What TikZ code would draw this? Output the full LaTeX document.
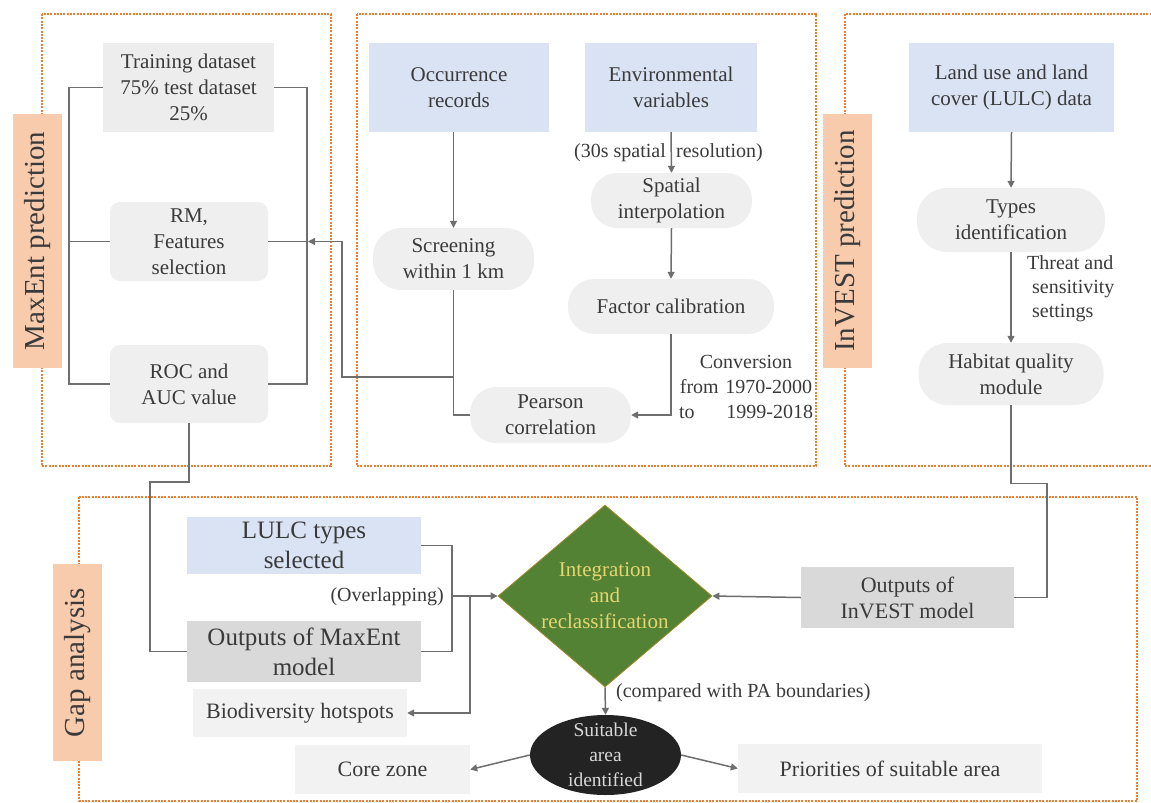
\documentclass[tikz,border=0pt]{standalone}
\usepackage{fontspec}
\setmainfont{Liberation Serif}
\usetikzlibrary{arrows.meta,shapes.geometric}
\definecolor{txt}{HTML}{3A3A3A}
\definecolor{lblue}{HTML}{DAE3F3}
\definecolor{grA}{HTML}{EDEDED}
\definecolor{grB}{HTML}{EFEFEF}
\definecolor{grC}{HTML}{D9D9D9}
\definecolor{grD}{HTML}{F2F2F2}
\definecolor{tagc}{HTML}{F8CBAD}
\definecolor{orng}{HTML}{ED7D31}
\definecolor{lnc}{HTML}{6E6E6E}
\definecolor{dgreen}{HTML}{548235}
\definecolor{dborder}{HTML}{A08A2A}
\definecolor{ytext}{HTML}{E6D670}
\definecolor{ellc}{HTML}{232323}
\definecolor{elltext}{HTML}{D8D8D8}
\newcommand\fmain{\fontsize{21}{26}\selectfont}
\newcommand\fbig{\fontsize{25}{30}\selectfont}
\newcommand\fmid{\fontsize{22}{26}\selectfont}
\newcommand\fsmall{\fontsize{20}{25}\selectfont}
\newcommand\ftitle{\fontsize{29}{34}\selectfont}
\begin{document}
\begin{tikzpicture}[x=1pt,y=-1pt,
  base/.style={inner sep=0pt, align=center, text=txt, font=\fmain},
  bluebox/.style={base, fill=lblue},
  graybox/.style={base, fill=grA},
  rbox/.style={base, fill=grB, rounded corners=10pt},
  pill/.style={base, fill=grB},
  outbox/.style={base, fill=grC},
  lightbox/.style={base, fill=grD, font=\fmid},
  tag/.style={fill=tagc, inner sep=0pt, rotate=90, font=\ftitle, text=txt},
  panel/.style={draw=orng, line width=1.2pt, dash pattern=on 2pt off 1.3pt},
  ln/.style={draw=lnc, line width=1.5pt},
  arr/.style={ln, -{Triangle[length=7pt,width=7pt]}},
  lbl/.style={inner sep=0pt, text=txt, font=\fsmall}
]
\useasboundingbox (0,0) rectangle (1151,803);

% panels
\draw[panel] (42,14) rectangle (331,466);
\draw[panel] (357,14) rectangle (816,466);
\draw[panel] (845,14) rectangle (1170,466);
\draw[panel] (79,497) rectangle (1137,801);

% tags
\node[tag, minimum width=254, minimum height=49] (tagM) at (37.5,241) {MaxEnt prediction};
\node[tag, minimum width=254, minimum height=49] (tagI) at (847.5,241) {InVEST prediction};
\node[tag, minimum width=197, minimum height=49] (tagG) at (77.5,662.5) {Gap analysis};

% panel 1
\node[graybox, minimum width=171, minimum height=89] (train) at (188.5,87.5) {Training dataset\\75\% test dataset\\25\%};
\node[rbox, minimum width=158, minimum height=79] (rm) at (189,241.5) {RM,\\Features\\selection};
\node[rbox, minimum width=158, minimum height=78] (roc) at (189,384) {ROC and\\AUC value};

% panel 2
\node[bluebox, minimum width=180, minimum height=89] (occ) at (459,87.5) {Occurrence\\records};
\node[bluebox, minimum width=172, minimum height=89] (env) at (671,87.5) {Environmental\\variables};
\node[pill, rounded corners=28pt, minimum width=161, minimum height=62] (scr) at (453.5,259) {Screening\\within 1 km};
\node[pill, rounded corners=26pt, minimum width=161, minimum height=55] (spi) at (671.5,200.5) {Spatial\\interpolation};
\node[pill, rounded corners=26pt, minimum width=206, minimum height=55] (fac) at (671,306.5) {Factor calibration};
\node[pill, rounded corners=26pt, minimum width=161, minimum height=56] (pea) at (550.5,415) {Pearson\\correlation};

% panel 3
\node[bluebox, minimum width=205, minimum height=89] (lulc) at (1011.5,87.5) {Land use and land\\cover (LULC) data};
\node[pill, rounded corners=30pt, minimum width=188, minimum height=64] (typ) at (1011,220) {Types\\identification};
\node[pill, rounded corners=29pt, minimum width=185, minimum height=62] (hab) at (1011,374) {Habitat quality\\module};

% panel 4
\node[bluebox, font=\fbig, minimum width=234, minimum height=57] (lsel) at (304,545.5) {LULC types\\selected};
\node[outbox, font=\fbig, minimum width=234, minimum height=61] (mout) at (304,651.5) {Outputs of MaxEnt\\model};
\node[lightbox, minimum width=214, minimum height=48] (bio) at (300,713) {Biodiversity hotspots};
\node[lightbox, minimum width=175, minimum height=49] (core) at (382.5,769.5) {Core zone};
\node[lightbox, minimum width=304, minimum height=49] (pri) at (890,768.5) {Priorities of suitable area};
\node[outbox, font=\fmid, minimum width=213, minimum height=61] (iout) at (907.5,597.5) {Outputs of\\InVEST model};
\node[diamond, fill=dgreen, draw=dborder, line width=0.8pt, inner sep=0pt, minimum width=214, minimum height=182] (dia) at (605,596) {};
\node[inner sep=0pt, align=center, text=ytext, font=\fmain] (diat) at (dia.center) {Integration\\and\\reclassification};
\node[ellipse, fill=ellc, inner sep=0pt, minimum width=151, minimum height=80] (ell) at (605.5,755) {};
\node[inner sep=0pt, align=center, text=elltext, font=\fontsize{19.5}{25}\selectfont] (ellt) at (ell.center) {Suitable\\area\\identified};

% labels
\node[lbl, anchor=east] (lab30a) at (666,153) {(30s spatial};
\node[lbl, anchor=west] (lab30b) at (676,153) {resolution)};
\node[lbl, align=center, text width=134] (conv) at (746,387) {Conversion\\from 1970-2000\\\makebox[134pt]{to\hfill 1999-2018}};
\node[lbl, align=left, anchor=west, font=\fontsize{20}{24}\selectfont] (thr) at (1027,289) {Threat and\\\ sensitivity\\\ settings};
\node[lbl, anchor=east] (ovl) at (444,597) {(Overlapping)};
\node[lbl, anchor=west] (cmp) at (616,693) {(compared with PA boundaries)};

% coordinates
\coordinate (pL) at (69,0);
\coordinate (pR) at (307,0);
\coordinate (j1) at (453.5,377);
\coordinate (b1) at (342,377);
\coordinate (b2) at (342,241.5);
\coordinate (b3) at (308,241.5);
\coordinate (r1) at (189,482);
\coordinate (r2) at (150,482);
\coordinate (h1) at (1011,483.5);
\coordinate (h2) at (1047,483.5);
\coordinate (k1) at (452,545.5);
\coordinate (k2) at (452,596);
\coordinate (k3) at (470,596);

% panel 1 connectors
\draw[ln] (train.west) -- (train.west -| pL) |- (roc.west);
\draw[ln] (rm.west) -- (rm.west -| pL);
\draw[ln] (train.east) -- (train.east -| pR) |- (roc.east);
\draw[ln] (rm.east) -- (rm.east -| pR);
\draw[arr] (j1) -- (b1) -- (b2) -- (b3);

% panel 2 connectors
\draw[arr] (scr.north |- occ.south) -- (scr.north);
\draw[ln] (scr.south) |- (pea.west);
\draw[arr] (env.south) -- (spi.north);
\draw[arr] (spi.south) -- (fac.north);
\draw[arr] (fac.south) |- (pea.east);

% panel 3 connectors
\draw[arr] (lulc.south) -- (typ.north);
\draw[arr] (typ.south) -- (hab.north);
\draw[ln] (hab.south) -- (h1) -- (h2) |- (iout.east);

% gap analysis connectors
\draw[ln] (roc.south) -- (r1) -- (r2) |- (mout.west);
\draw[ln] (lsel.east) -- (k1) |- (mout.east);
\draw[arr] (k2) -- (dia.west);
\draw[arr] (k3) |- (bio.east);
\draw[arr] (iout.west) -- (dia.east);
\draw[arr] (dia.south) -- (ell.north);
\draw[arr] (ell.west) -- (core.east);
\draw[arr] (ell.east) -- (pri.west);
\end{tikzpicture}
\end{document}
